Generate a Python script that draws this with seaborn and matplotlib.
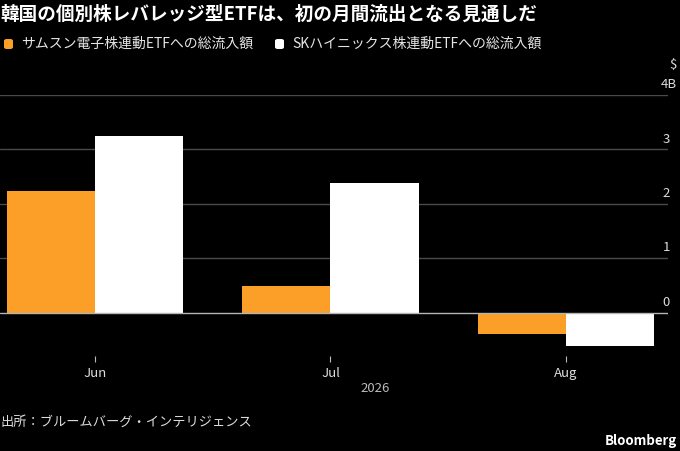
import pandas as pd
import matplotlib
matplotlib.use("Agg")
import matplotlib.pyplot as plt
import matplotlib.transforms as mtrans
from matplotlib.patches import FancyBboxPatch
import seaborn as sns

months = ["Jun", "Jul", "Aug"]
series_names = ["サムスン電子株連動ETFへの総流入額", "SKハイニックス株連動ETFへの総流入額"]
samsung = [2.23, 0.49, -0.39]
hynix = [3.25, 2.39, -0.61]
y_ticks = [0, 1, 2, 3, 4]
y_labels = ["0", "1", "2", "3", "4B"]

df = pd.DataFrame({
    "month": months * 2,
    "series": [series_names[0]] * 3 + [series_names[1]] * 3,
    "value": samsung + hynix,
})

sns.set_theme(style="dark")
plt.rcParams["font.family"] = ["Noto Sans CJK JP", "DejaVu Sans"]

bg = "#000000"
orange = "#fb9f28"
fig = plt.figure(figsize=(6.8, 4.51), dpi=100, facecolor=bg)
ax = fig.add_axes([0.0, 95 / 451, 668 / 680, 261 / 451])
ax.set_facecolor(bg)

sns.barplot(data=df, x="month", y="value", hue="series", order=months,
            hue_order=series_names, palette=[orange, "#ffffff"],
            width=0.75, saturation=1, linewidth=0, ax=ax, legend=False)

ax.set_xlim(-0.403, 2.433)
ax.set_ylim(-0.8, 4.0)
for s in ax.spines.values():
    s.set_visible(False)

# gridlines, zero line brighter
for t in y_ticks[1:]:
    ax.axhline(t, color="#4a4a4a", lw=1, zorder=0)
ax.axhline(0, color="#b5b5b5", lw=1, zorder=3)

ax.set_yticks([])
ax.set_xlabel("")
ax.set_ylabel("")
ax.tick_params(axis="x", colors="#bbbbbb", length=4, width=0.8, pad=4,
               labelsize=9.5, direction="out", bottom=True)
for lbl in ax.get_xticklabels():
    lbl.set_color("#dddddd")

trans = mtrans.blended_transform_factory(fig.transFigure, ax.transData)
for t, l in zip(y_ticks, y_labels):
    xr = 677 / 680 if l.endswith("B") else 670 / 680
    ax.text(xr, t + 0.07, l, transform=trans, ha="right", va="bottom",
            color="#dddddd", fontsize=9.5)
ax.text(677 / 680, 4.45, "$", transform=trans, ha="right", va="bottom",
        color="#dddddd", fontsize=9.5)

fig.text(0.0, 1 - 14 / 451, "韓国の個別株レバレッジ型ETFは、初の月間流出となる見通しだ",
         color="#ffffff", fontsize=13.4, fontweight="bold", ha="left", va="center")

# legend
legend_y = 1 - 44 / 451
for x0, name, c in [(4, series_names[0], orange), (275, series_names[1], "#ffffff")]:
    fig.patches.append(FancyBboxPatch((x0 / 680, legend_y - 5 / 451), 9 / 680, 10 / 451,
                                      boxstyle="round,pad=0,rounding_size=0.004",
                                      transform=fig.transFigure, facecolor=c,
                                      edgecolor="none"))
    fig.text((x0 + 17) / 680, legend_y, name, color="#e6e6e6", fontsize=10,
             ha="left", va="center")

fig.text(375 / 680, 1 - 388 / 451, "2026", color="#bbbbbb", fontsize=9.5,
         ha="center", va="center")
fig.text(0.0, 1 - 422 / 451, "出所：ブルームバーグ・インテリジェンス", color="#dddddd",
         fontsize=9.5, ha="left", va="center")
fig.text(677 / 680, 1 - 441 / 451, "Bloomberg", color="#ffffff", fontsize=9.5,
         fontweight="bold", ha="right", va="center")

fig.savefig("out.png", dpi=100, facecolor=bg)
